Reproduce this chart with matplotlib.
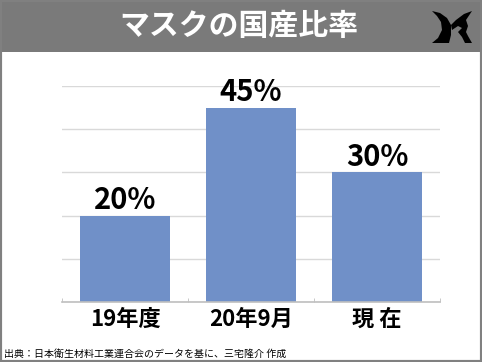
import matplotlib
matplotlib.use("Agg")
import matplotlib.pyplot as plt
from matplotlib.patches import Rectangle, Polygon

plt.rcParams['font.family'] = ['Noto Sans CJK JP', 'DejaVu Sans']

title = "マスクの国産比率"
categories = ["19年度", "20年9月", "現 在"]
values = [20, 45, 30]
source = "出典：日本衛生材料工業連合会のデータを基に、三宅隆介 作成"

W, H = 482, 362
fig = plt.figure(figsize=(W / 100, H / 100), dpi=100)

# header band
fig.patches.append(Rectangle((0, 1 - 52 / H), 1, 52 / H, transform=fig.transFigure,
                             facecolor="#7a7a7a", edgecolor="none", zorder=0))
fig.text(239 / W, 1 - 26 / H, title, color="white", fontsize=21.5, fontweight="bold",
         ha="center", va="center")

# logo (rough shape, pixel coords from top-left)
def px(pts):
    return [(x / W, 1 - y / H) for x, y in pts]

logo_left = px([(432, 11), (440, 13), (447, 18), (451, 25), (451, 35), (449, 43),
                (432, 43), (438, 38), (442, 30), (441, 22), (437, 16)])
logo_right = px([(472, 11), (464, 14), (456, 20), (451, 25), (452, 30), (458, 26),
                 (462, 28), (458, 32), (462, 37), (465, 43), (472, 43), (468, 36),
                 (466, 32), (468, 26), (466, 20)])
for poly in (logo_left, logo_right):
    fig.patches.append(Polygon(poly, closed=True, transform=fig.transFigure,
                               facecolor="black", edgecolor="none"))

# chart
ax = fig.add_axes([62 / W, 1 - 302 / H, (440 - 62) / W, (302 - 86) / H])
x = range(len(categories))
bars = ax.bar(x, values, width=0.714, color="#7090c8", zorder=2)
ax.set_xlim(-0.5, 2.5)
ax.set_ylim(0, 50)
ax.set_yticks(range(0, 51, 10))
ax.yaxis.grid(True, color="#d9d9d9", linewidth=1, zorder=0)
ax.tick_params(axis="y", length=0, labelleft=False)
for s in ("top", "left", "right"):
    ax.spines[s].set_visible(False)
ax.spines["bottom"].set_color("#bfbfbf")
ax.spines["bottom"].set_linewidth(1.2)

ax.set_xticks(list(x))
ax.set_xticklabels(categories, fontsize=16, fontweight="bold")
ax.tick_params(axis="x", length=0, pad=4)
ax.set_xticks([-0.5, 0.5, 1.5, 2.5], minor=True)
ax.tick_params(axis="x", which="minor", direction="in", length=3, color="#bfbfbf")

for xi, v in zip(x, values):
    ax.annotate(f"{v}%", (xi, v), xytext=(0, 4.5), textcoords="offset points",
                ha="center", va="baseline", fontsize=21, fontweight="bold",
                annotation_clip=False)

fig.text(4 / W, 1 - 354 / H, source, fontsize=7.2, ha="left", va="center")

# outer border
fig.patches.append(Rectangle((0, 0), 1, 1, transform=fig.transFigure, fill=False,
                             edgecolor="#808080", linewidth=3))

fig.savefig("out.png", dpi=100)
